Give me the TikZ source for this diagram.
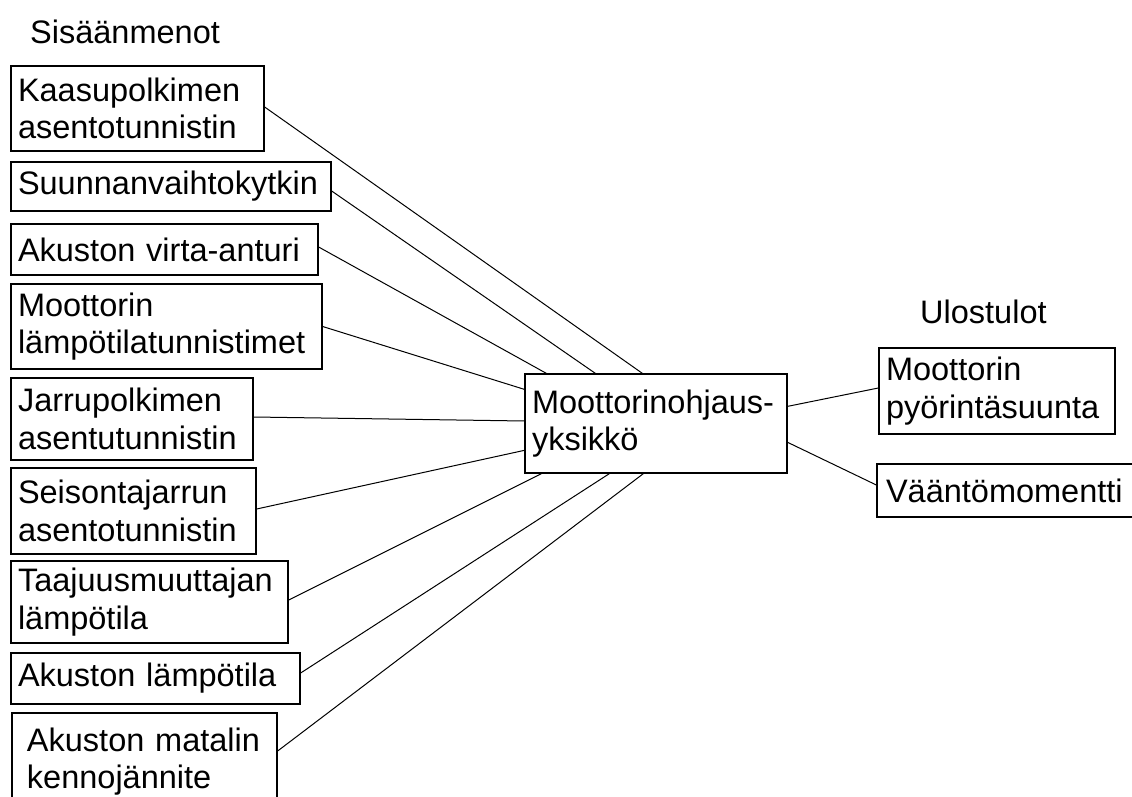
\documentclass[tikz,border=0pt]{standalone}
\usepackage{fontspec}
\setmainfont{Liberation Sans}
\hyphenpenalty=10000
\exhyphenpenalty=10000
\begin{document}
\begin{tikzpicture}[x=1pt,y=-1pt,
  txt/.style={font=\fontsize{32.5}{37.5}\selectfont},
  box/.style={txt, draw, line width=1.3pt, rectangle, inner xsep=7pt, inner ysep=0pt, align=left},
  wire/.style={line width=1pt},
  title/.style={txt, inner sep=0pt, anchor=base west}]
\useasboundingbox[fill=white] (0,0) rectangle (1132,797);

\node[title] (tin) at (30,44) {Sisäänmenot};
\node[title] (tout) at (920,323) {Ulostulot};

\node[box, minimum width=253pt, minimum height=85pt, text width=239pt] (b1) at (137.5,108.5) {Kaasupolkimen\\asentotunnistin};
\node[box, minimum width=320pt, minimum height=49pt, text width=306pt] (b2) at (171,186.5) {Suunnanvaihtokytkin};
\node[box, minimum width=307pt, minimum height=51pt, text width=293pt] (b3) at (164.5,249.5) {Akuston virta-anturi};
\node[box, minimum width=311pt, minimum height=85pt, text width=297pt] (b4) at (166.5,326.5) {Moottorin\\lämpötilatunnistimet};
\node[box, minimum width=242pt, minimum height=82pt, text width=228pt] (b5) at (132,419) {Jarrupolkimen\\asentutunnistin};
\node[box, minimum width=245pt, minimum height=86pt, text width=231pt] (b6) at (133.5,511) {Seisontajarrun\\asentotunnistin};
\node[box, minimum width=277pt, minimum height=82pt, text width=263pt] (b7) at (149.5,602) {Taajuusmuuttajan\\lämpötila};
\node[box, minimum width=289pt, minimum height=51pt, text width=275pt] (b8) at (155.5,678.5) {Akuston lämpötila};
\node[box, minimum width=265pt, minimum height=97pt, text width=251pt] (b9) at (144.5,761.5) {\hspace*{8pt}Akuston matalin\\\hspace*{8pt}kennojännite};

\node[box, minimum width=262pt, minimum height=99pt, text width=248pt] (c) at (656,423.5) {Moottorinohjaus-\\yksikkö};

\node[box, minimum width=236pt, minimum height=86pt, text width=222pt] (o1) at (997,391) {Moottorin\\pyörintäsuunta};
\node[box, minimum width=268pt, minimum height=53pt, text width=250pt, inner xsep=9pt] (o2) at (1011,490.5) {Vääntömomentti};

\draw[wire] ([yshift=1.5pt]b1.east) -- ([xshift=118pt]c.north west);
\draw[wire] ([yshift=-4.5pt]b2.east) -- ([xshift=71pt]c.north west);
\draw[wire] ([yshift=2.5pt]b3.east) -- ([xshift=22pt]c.north west);
\draw[wire] (b4.east) -- ([yshift=-16pt]c.north west);
\draw[wire] ([yshift=2pt]b5.east) -- ([yshift=2.5pt]c.west);
\draw[wire] ([yshift=2pt]b6.east) -- ([yshift=-77pt]c.north west);
\draw[wire] ([yshift=2pt]b7.east) -- ([xshift=17pt]c.south west);
\draw[wire] ([yshift=5.5pt]b8.east) -- ([xshift=85pt]c.south west);
\draw[wire] ([yshift=10.5pt]b9.east) -- ([xshift=119pt]c.south west);

\draw[wire] ([yshift=-33pt]c.north east) -- ([yshift=3pt]o1.west);
\draw[wire] ([yshift=-69pt]c.north east) -- ([yshift=5.5pt]o2.west);
\end{tikzpicture}
\end{document}
